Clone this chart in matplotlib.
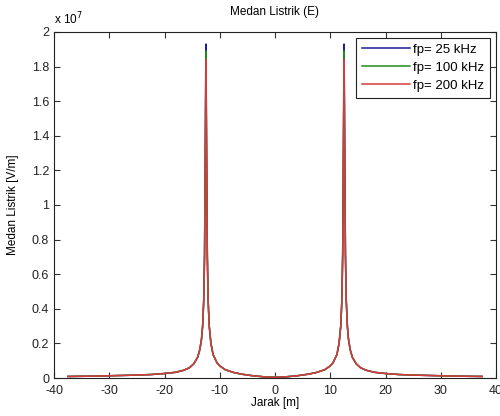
import matplotlib
matplotlib.use('Agg')
from matplotlib import pyplot as plt
import numpy as np

plt.rcParams['font.family'] = ['Liberation Sans', 'DejaVu Sans']
plt.rcParams['axes.unicode_minus'] = False

# jarak (m), left half then right half
jarak = [-37.5, -35, -32.5, -30, -27.5, -25, -22.5, -20, -18, -16.5, -15.5, -14.7,
         -14, -13.6, -13.3, -13.1, -12.9, -12.75, -12.6, -12.5, -12.4, -12.25, -12.1,
         -11.9, -11.6, -11.2, -10.5, -10, -9, -7.5, -6, -4, -2, 0,
         2, 4, 6, 7.5, 9, 10, 10.5, 11.2, 11.6, 11.9, 12.1, 12.25, 12.4, 12.5,
         12.6, 12.75, 12.9, 13.1, 13.3, 13.6, 14, 14.7, 15.5, 16.5, 18, 20, 22.5,
         25, 27.5, 30, 32.5, 35, 37.5]

# medan listrik in units of 1e7 V/m
E_25k = [0.009, 0.010, 0.011, 0.013, 0.015, 0.017, 0.020, 0.026, 0.033, 0.045, 0.059, 0.082,
         0.12, 0.165, 0.225, 0.30, 0.45, 0.72, 1.43, 1.93, 1.43, 0.72, 0.45,
         0.30, 0.20, 0.135, 0.088, 0.070, 0.048, 0.032, 0.022, 0.013, 0.007, 0.004,
         0.007, 0.013, 0.022, 0.032, 0.048, 0.070, 0.088, 0.135, 0.20, 0.30, 0.45, 0.72, 1.43, 1.93,
         1.43, 0.72, 0.45, 0.30, 0.225, 0.165, 0.12, 0.082, 0.059, 0.045, 0.033, 0.026, 0.020,
         0.017, 0.015, 0.013, 0.011, 0.010, 0.009]
E_100k = [0.009, 0.010, 0.011, 0.013, 0.015, 0.017, 0.020, 0.026, 0.033, 0.045, 0.059, 0.082,
          0.12, 0.165, 0.225, 0.30, 0.45, 0.71, 1.40, 1.89, 1.40, 0.71, 0.45,
          0.30, 0.20, 0.135, 0.088, 0.070, 0.048, 0.032, 0.022, 0.013, 0.007, 0.004,
          0.007, 0.013, 0.022, 0.032, 0.048, 0.070, 0.088, 0.135, 0.20, 0.30, 0.45, 0.71, 1.40, 1.89,
          1.40, 0.71, 0.45, 0.30, 0.225, 0.165, 0.12, 0.082, 0.059, 0.045, 0.033, 0.026, 0.020,
          0.017, 0.015, 0.013, 0.011, 0.010, 0.009]
E_200k = [0.009, 0.010, 0.011, 0.013, 0.015, 0.017, 0.020, 0.026, 0.033, 0.045, 0.059, 0.082,
          0.12, 0.165, 0.225, 0.30, 0.44, 0.70, 1.35, 1.84, 1.35, 0.70, 0.44,
          0.30, 0.20, 0.135, 0.088, 0.070, 0.048, 0.032, 0.022, 0.013, 0.007, 0.004,
          0.007, 0.013, 0.022, 0.032, 0.048, 0.070, 0.088, 0.135, 0.20, 0.30, 0.44, 0.70, 1.35, 1.84,
          1.35, 0.70, 0.44, 0.30, 0.225, 0.165, 0.12, 0.082, 0.059, 0.045, 0.033, 0.026, 0.020,
          0.017, 0.015, 0.013, 0.011, 0.010, 0.009]

labels = ['fp= 25 kHz', 'fp= 100 kHz', 'fp= 200 kHz']
colors = ['#1c1c94', '#1e8a1e', '#d83a3a']

fig = plt.figure(figsize=(5, 4.16), dpi=100)
ax = fig.add_axes([0.108, 0.0913, 0.884, 0.832])

for y, lab, c in zip([E_25k, E_100k, E_200k], labels, colors):
    ax.plot(jarak, y, color=c, linewidth=1.1, label=lab)

ax.set_xlim(-40, 40)
ax.set_ylim(0, 2)
ax.set_xticks(np.arange(-40, 41, 10))
ax.set_yticks(np.arange(0, 2.01, 0.2))
ax.set_yticklabels(['0', '0.2', '0.4', '0.6', '0.8', '1', '1.2', '1.4', '1.6', '1.8', '2'])
ax.tick_params(direction='in', top=True, right=True, length=4, labelsize=9, colors='#333333', labelcolor='#222222')
ax.tick_params(axis='x', pad=5)
for spine in ax.spines.values():
    spine.set_color('#222222')
    spine.set_linewidth(0.8)

ax.set_title('Medan Listrik (E)', fontsize=8.5, pad=12)
ax.set_xlabel('Jarak [m]', fontsize=8.5, labelpad=0)
ax.set_ylabel('Medan Listrik [V/m]', fontsize=8.5, labelpad=9)
ax.text(0.0, 1.012, r'x 10$^7$', transform=ax.transAxes, fontsize=8.5, va='bottom', ha='left')

leg = ax.legend(loc='upper right', fontsize=9.5, handlelength=3.6, handletextpad=0.25,
                borderpad=0.45, labelspacing=0.42, fancybox=False, framealpha=1,
                borderaxespad=0.45)
leg.get_frame().set_edgecolor('#222222')
leg.get_frame().set_linewidth(0.8)

plt.savefig('out.png', dpi=100)
